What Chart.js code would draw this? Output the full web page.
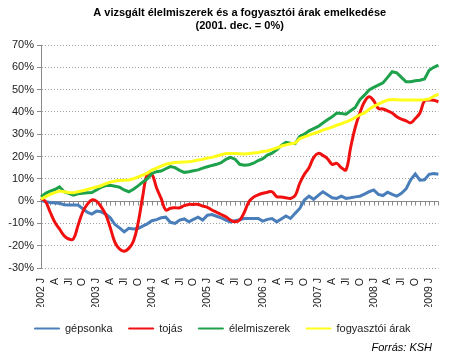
<!DOCTYPE html>
<html>
<head>
<meta charset="utf-8">
<script src="https://cdn.jsdelivr.net/npm/chart.js@4/dist/chart.umd.min.js"></script>
<style>
  body { margin: 0; background: #fff; }
  #wrap { width: 453px; height: 361px; }
</style>
</head>
<body>
<div id="wrap"><canvas id="chart" width="453" height="361"></canvas></div>
<script>
// quarterly tick labels, 2002 Jan .. 2009 Jan (one every 3 months)
const tickLabels = [
  '2002 J', 'A', 'Jl', 'O', '2003 J', 'A', 'Jl', 'O', '2004 J', 'A', 'Jl', 'O',
  '2005 J', 'A', 'Jl', 'O', '2006 J', 'A', 'Jl', 'O', '2007 J', 'A', 'Jl', 'O',
  '2008 J', 'A', 'Jl', 'O', '2009 J'
];
const monthCount = 87; // 2002 Jan .. 2009 Mar

const seriesNames = ['gépsonka', 'tojás', 'élelmiszerek', 'fogyasztói árak'];

const gepsonka = [
  0.4, -0.3, -0.6, -0.8, -1.0, -1.6, -1.8, -1.8, -1.8, -3.3, -5.0, -5.8,
  -4.5, -4.8, -5.8, -7.5, -10.5, -12.0, -13.8, -12.2, -12.5, -12.3, -11.2, -10.2,
  -8.8, -8.3, -7.5, -7.2, -9.5, -10.0, -8.5, -8.0, -9.3, -8.2, -7.2, -8.5,
  -6.3, -6.0, -6.8, -7.5, -8.5, -9.3, -8.8, -8.3, -7.8, -7.8, -7.8, -7.8,
  -9.0, -8.2, -7.8, -9.3, -8.0, -6.7, -7.8, -5.5, -3.3, 0.5, 2.2, 0.8,
  2.6, 4.2, 2.8, 1.5, 1.2, 2.2, 1.2, 1.5, 1.9, 2.2, 3.1, 4.2,
  5.0, 3.0, 2.5, 4.0, 3.0, 2.2, 3.5, 5.5, 9.5, 12.2, 9.4, 9.6,
  12.0, 12.4, 12.0
];
const tojas = [
  1.2, -0.3, -5.0, -9.5, -12.5, -15.5, -17.0, -17.0, -11.0, -5.0, -1.5, 0.5,
  0.0, -2.5, -6.0, -12.0, -18.5, -21.5, -22.5, -21.2, -18.0, -10.0, 2.0, 12.0,
  12.0, 6.0, 1.2, -4.0, -3.2, -3.0, -3.0, -2.0, -1.5, -1.5, -1.5, -2.2,
  -2.8, -4.0, -5.0, -6.0, -7.0, -8.5, -9.3, -8.5, -5.0, -0.3, 1.8, 2.8,
  3.5, 4.0, 4.2, 2.0, 1.8, 1.5, 1.2, 2.5, 8.0, 12.0, 15.0, 19.5,
  21.4, 20.5, 19.0, 16.5, 16.9, 15.0, 14.0, 24.0, 33.0, 39.5, 44.5, 46.8,
  45.0, 41.6, 41.3, 40.5, 39.5, 37.8, 36.8, 36.0, 35.1, 37.0, 39.5, 45.0,
  45.3, 45.2, 44.5
];
const elelmiszerek = [
  1.9, 3.5, 4.5, 5.2, 6.4, 4.2, 3.5, 2.7, 3.3, 3.5, 3.7, 3.8,
  5.0, 6.2, 7.0, 7.1, 6.7, 6.2, 5.0, 4.2, 5.3, 6.8, 8.5, 10.0,
  12.4, 13.2, 13.5, 14.5, 15.5, 15.0, 13.8, 12.9, 13.2, 13.6, 14.0, 14.8,
  15.4, 16.0, 16.5, 17.2, 18.7, 19.6, 18.8, 16.5, 16.1, 16.3, 17.0, 18.2,
  19.0, 20.6, 21.5, 23.0, 25.0, 26.4, 26.0, 25.8, 29.0, 30.0, 31.5, 32.5,
  33.5, 35.0, 36.5, 37.8, 39.5, 39.3, 39.0, 40.5, 42.0, 45.5, 47.5, 49.8,
  51.0, 52.0, 53.0, 55.5, 58.0, 57.5, 55.5, 53.5, 53.5, 54.0, 54.2, 54.8,
  58.7, 60.0, 61.0
];
const fogyasztoi = [
  0.8, 2.0, 3.0, 3.8, 4.5, 4.2, 3.9, 3.7, 4.2, 4.6, 5.2, 5.8,
  6.3, 6.9, 7.8, 8.5, 9.0, 9.2, 9.4, 9.5, 10.0, 10.8, 11.6, 12.5,
  13.9, 14.8, 15.7, 16.5, 17.0, 17.3, 17.4, 17.5, 17.6, 18.0, 18.4, 18.7,
  19.3, 19.6, 20.2, 20.8, 21.4, 21.4, 21.3, 21.2, 21.1, 21.3, 21.6, 21.8,
  22.2, 22.5, 23.2, 23.8, 24.7, 25.2, 25.7, 26.0, 28.0, 28.8, 29.6, 30.3,
  31.0, 31.8, 32.5, 33.2, 34.0, 34.7, 35.5, 36.3, 37.5, 38.7, 39.5, 41.2,
  42.5, 43.5, 44.5, 45.3, 45.6, 45.5, 45.3, 45.3, 45.3, 45.3, 45.3, 45.5,
  45.8, 47.0, 48.0
];

const yTicks = [-30, -20, -10, 0, 10, 20, 30, 40, 50, 60, 70];

const labels = [];
for (let i = 0; i < monthCount; i++) {
  labels.push(i % 3 === 0 ? tickLabels[i / 3] : '');
}

const FONT = "'Liberation Sans', Arial, sans-serif";
Chart.defaults.font.family = FONT;
Chart.defaults.color = '#222';

// the category axis crosses at 0%, with small ticks on it
const zeroAxis = {
  id: 'zeroAxis',
  beforeDatasetsDraw(chart) {
    const { ctx, chartArea: a, scales: { x, y } } = chart;
    const y0 = Math.round(y.getPixelForValue(0)) + 0.5;
    ctx.save();
    ctx.strokeStyle = '#8a8a8a';
    ctx.lineWidth = 1;
    ctx.beginPath();
    ctx.moveTo(a.left, y0);
    ctx.lineTo(a.right, y0);
    for (let i = 0; i < monthCount; i++) {
      const px = Math.round(x.getPixelForValue(i)) + 0.5;
      ctx.moveTo(px, y0);
      ctx.lineTo(px, y0 + 4);
    }
    ctx.stroke();
    ctx.restore();
  }
};

const texts = {
  id: 'texts',
  afterDraw(chart) {
    const { ctx, chartArea: a } = chart;
    ctx.save();
    ctx.fillStyle = '#000';
    ctx.textAlign = 'center';
    ctx.textBaseline = 'middle';
    ctx.font = 'bold 11px ' + FONT;
    const cx = (a.left + a.right) / 2;
    ctx.fillText('A vizsgált élelmiszerek és a fogyasztói árak emelkedése', cx, 13);
    ctx.fillText('(2001. dec. = 0%)', cx, 26);
    ctx.font = 'italic 11px ' + FONT;
    ctx.textAlign = 'right';
    ctx.fillText('Forrás: KSH', 432, 348);
    ctx.restore();
  }
};

new Chart(document.getElementById('chart'), {
  type: 'line',
  data: {
    labels: labels,
    datasets: [
      { label: seriesNames[0], data: gepsonka, borderColor: '#4a7ebb', order: 4 },
      { label: seriesNames[1], data: tojas, borderColor: '#f01010', order: 3, tension: 0.4 },
      { label: seriesNames[2], data: elelmiszerek, borderColor: '#1ea14b', order: 2 },
      { label: seriesNames[3], data: fogyasztoi, borderColor: '#ffff1a', order: 1 }
    ]
  },
  options: {
    responsive: false,
    animation: false,
    layout: { padding: { top: 45, right: 8, left: 0, bottom: 17 } },
    elements: {
      point: { radius: 0 },
      line: { borderWidth: 3, tension: 0 }
    },
    plugins: {
      title: { display: false },
      tooltip: { enabled: false },
      legend: {
        position: 'bottom',
        labels: {
          boxWidth: 25,
          boxHeight: 1,
          padding: 16,
          font: { size: 11 },
          color: '#222',
          sort: (a, b) => a.datasetIndex - b.datasetIndex,
          generateLabels(chart) {
            const items = Chart.defaults.plugins.legend.labels.generateLabels(chart);
            items.forEach(it => {
              it.fillStyle = it.strokeStyle;
              it.lineWidth = 1;
            });
            return items;
          }
        }
      }
    },
    scales: {
      x: {
        grid: { display: false },
        border: { display: false },
        ticks: {
          autoSkip: false,
          minRotation: 90,
          maxRotation: 90,
          padding: 2,
          font: { size: 10.5 },
          color: '#222'
        },
        afterFit(s) { s.height = 39; }
      },
      y: {
        min: -30,
        max: 70,
        afterBuildTicks(s) { s.ticks = yTicks.map(v => ({ value: v })); },
        grid: {
          color: '#a0a0a0',
          tickColor: '#8a8a8a',
          tickLength: 4,
          tickBorderDash: []
        },
        border: { display: true, color: '#8a8a8a', dash: [1, 2] },
        ticks: {
          padding: 3,
          font: { size: 11 },
          color: '#222',
          callback: v => v + '%'
        },
        afterFit(s) { s.width = 41; }
      }
    }
  },
  plugins: [zeroAxis, texts]
});
</script>
</body>
</html>
